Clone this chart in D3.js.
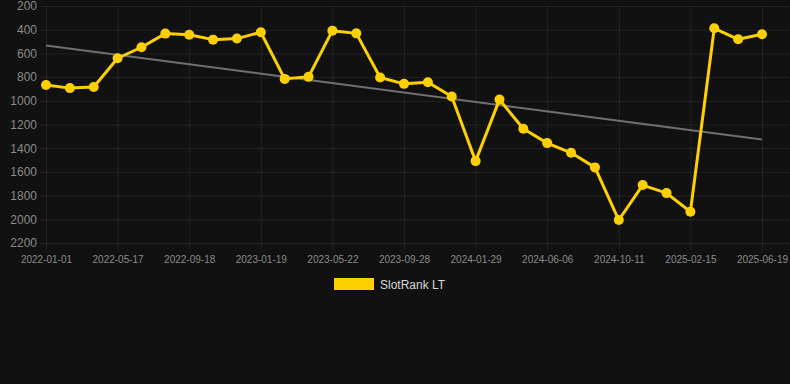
<!DOCTYPE html>
<html>
<head>
<meta charset="utf-8">
<script src="https://cdn.jsdelivr.net/npm/d3@7"></script>
<style>
  html, body { margin: 0; padding: 0; background: #111111; }
  svg { display: block; }
</style>
</head>
<body>
<svg id="chart" width="790" height="384"></svg>
<script>
const dates = [
  "2022-01-01","2022-02-15","2022-04-01","2022-05-17","2022-06-27","2022-08-07",
  "2022-09-18","2022-10-29","2022-12-09","2023-01-19","2023-03-01","2023-04-11",
  "2023-05-22","2023-07-04","2023-08-16","2023-09-28","2023-11-08","2023-12-19",
  "2024-01-29","2024-03-12","2024-04-24","2024-06-06","2024-07-18","2024-08-30",
  "2024-10-11","2024-11-22","2025-01-03","2025-02-15","2025-03-28","2025-05-08",
  "2025-06-19"
];
const rankValues = [
  866, 893, 883, 641, 548, 433,
  442, 484, 475, 422, 815, 798,
  408, 431, 804, 857, 843, 964,
  1509, 990, 1236, 1357, 1439, 1562,
  2006, 1711, 1779, 1936, 388, 481,
  439
];
const yTicks = [200, 400, 600, 800, 1000, 1200, 1400, 1600, 1800, 2000, 2200];
const xTickEvery = 3;
const seriesName = "SlotRank LT";

const svg = d3.select("#chart");
const plotL = 46, plotR = 790, plotT = 6, plotB = 243;

const x = d3.scalePoint().domain(dates).range([plotL, 762]);
const y = d3.scaleLinear().domain([200, 2200]).range([plotT, plotB]);

const gridColor = "rgba(255,255,255,0.07)";
const labelColor = "#8a8a8a";
const font = "Helvetica, Arial, 'Liberation Sans', sans-serif";

// horizontal grid + y axis
const yAxis = d3.axisLeft(y).tickValues(yTicks).tickSize(plotR - plotL + 6).tickPadding(3).tickFormat(d3.format("d"));
svg.append("g").attr("transform", `translate(${plotR},0)`).call(yAxis)
  .call(g => g.select(".domain").remove())
  .call(g => g.selectAll("line").attr("stroke", gridColor))
  .call(g => g.selectAll("text").attr("fill", labelColor).attr("font-size", 12).attr("font-family", font));

// vertical grid + x axis
const xTickVals = dates.filter((d, i) => i % xTickEvery === 0);
const xAxis = d3.axisBottom(x).tickValues(xTickVals).tickSize(plotB - plotT + 7).tickPadding(6);
svg.append("g").attr("transform", `translate(0,${plotT})`).call(xAxis)
  .call(g => g.select(".domain").remove())
  .call(g => g.selectAll("line").attr("stroke", gridColor))
  .call(g => g.selectAll("text").attr("fill", labelColor).attr("font-size", 10).attr("font-family", font));

// trend line (least squares)
const n = rankValues.length;
const idx = d3.range(n);
const mx = d3.mean(idx), my = d3.mean(rankValues);
const slope = d3.sum(idx, i => (i - mx) * (rankValues[i] - my)) / d3.sum(idx, i => (i - mx) ** 2);
const icpt = my - slope * mx;
svg.append("line")
  .attr("x1", x(dates[0])).attr("y1", y(icpt))
  .attr("x2", x(dates[n - 1])).attr("y2", y(icpt + slope * (n - 1)))
  .attr("stroke", "#707070").attr("stroke-width", 2);

// series line
const gold = "#FFD000";
const line = d3.line().x((d, i) => x(dates[i])).y(d => y(d));
svg.append("path").datum(rankValues).attr("d", line)
  .attr("fill", "none").attr("stroke", gold).attr("stroke-width", 3).attr("stroke-linejoin", "round");

svg.append("g").selectAll("circle").data(rankValues).join("circle")
  .attr("cx", (d, i) => x(dates[i])).attr("cy", d => y(d)).attr("r", 5)
  .attr("fill", gold);

// legend
const lg = svg.append("g");
lg.append("rect").attr("x", 334).attr("y", 278).attr("width", 40).attr("height", 12).attr("fill", gold);
lg.append("text").attr("x", 380).attr("y", 288.5).text(seriesName)
  .attr("fill", "#d8d8d8").attr("font-size", 12).attr("font-family", font);
</script>
</body>
</html>
